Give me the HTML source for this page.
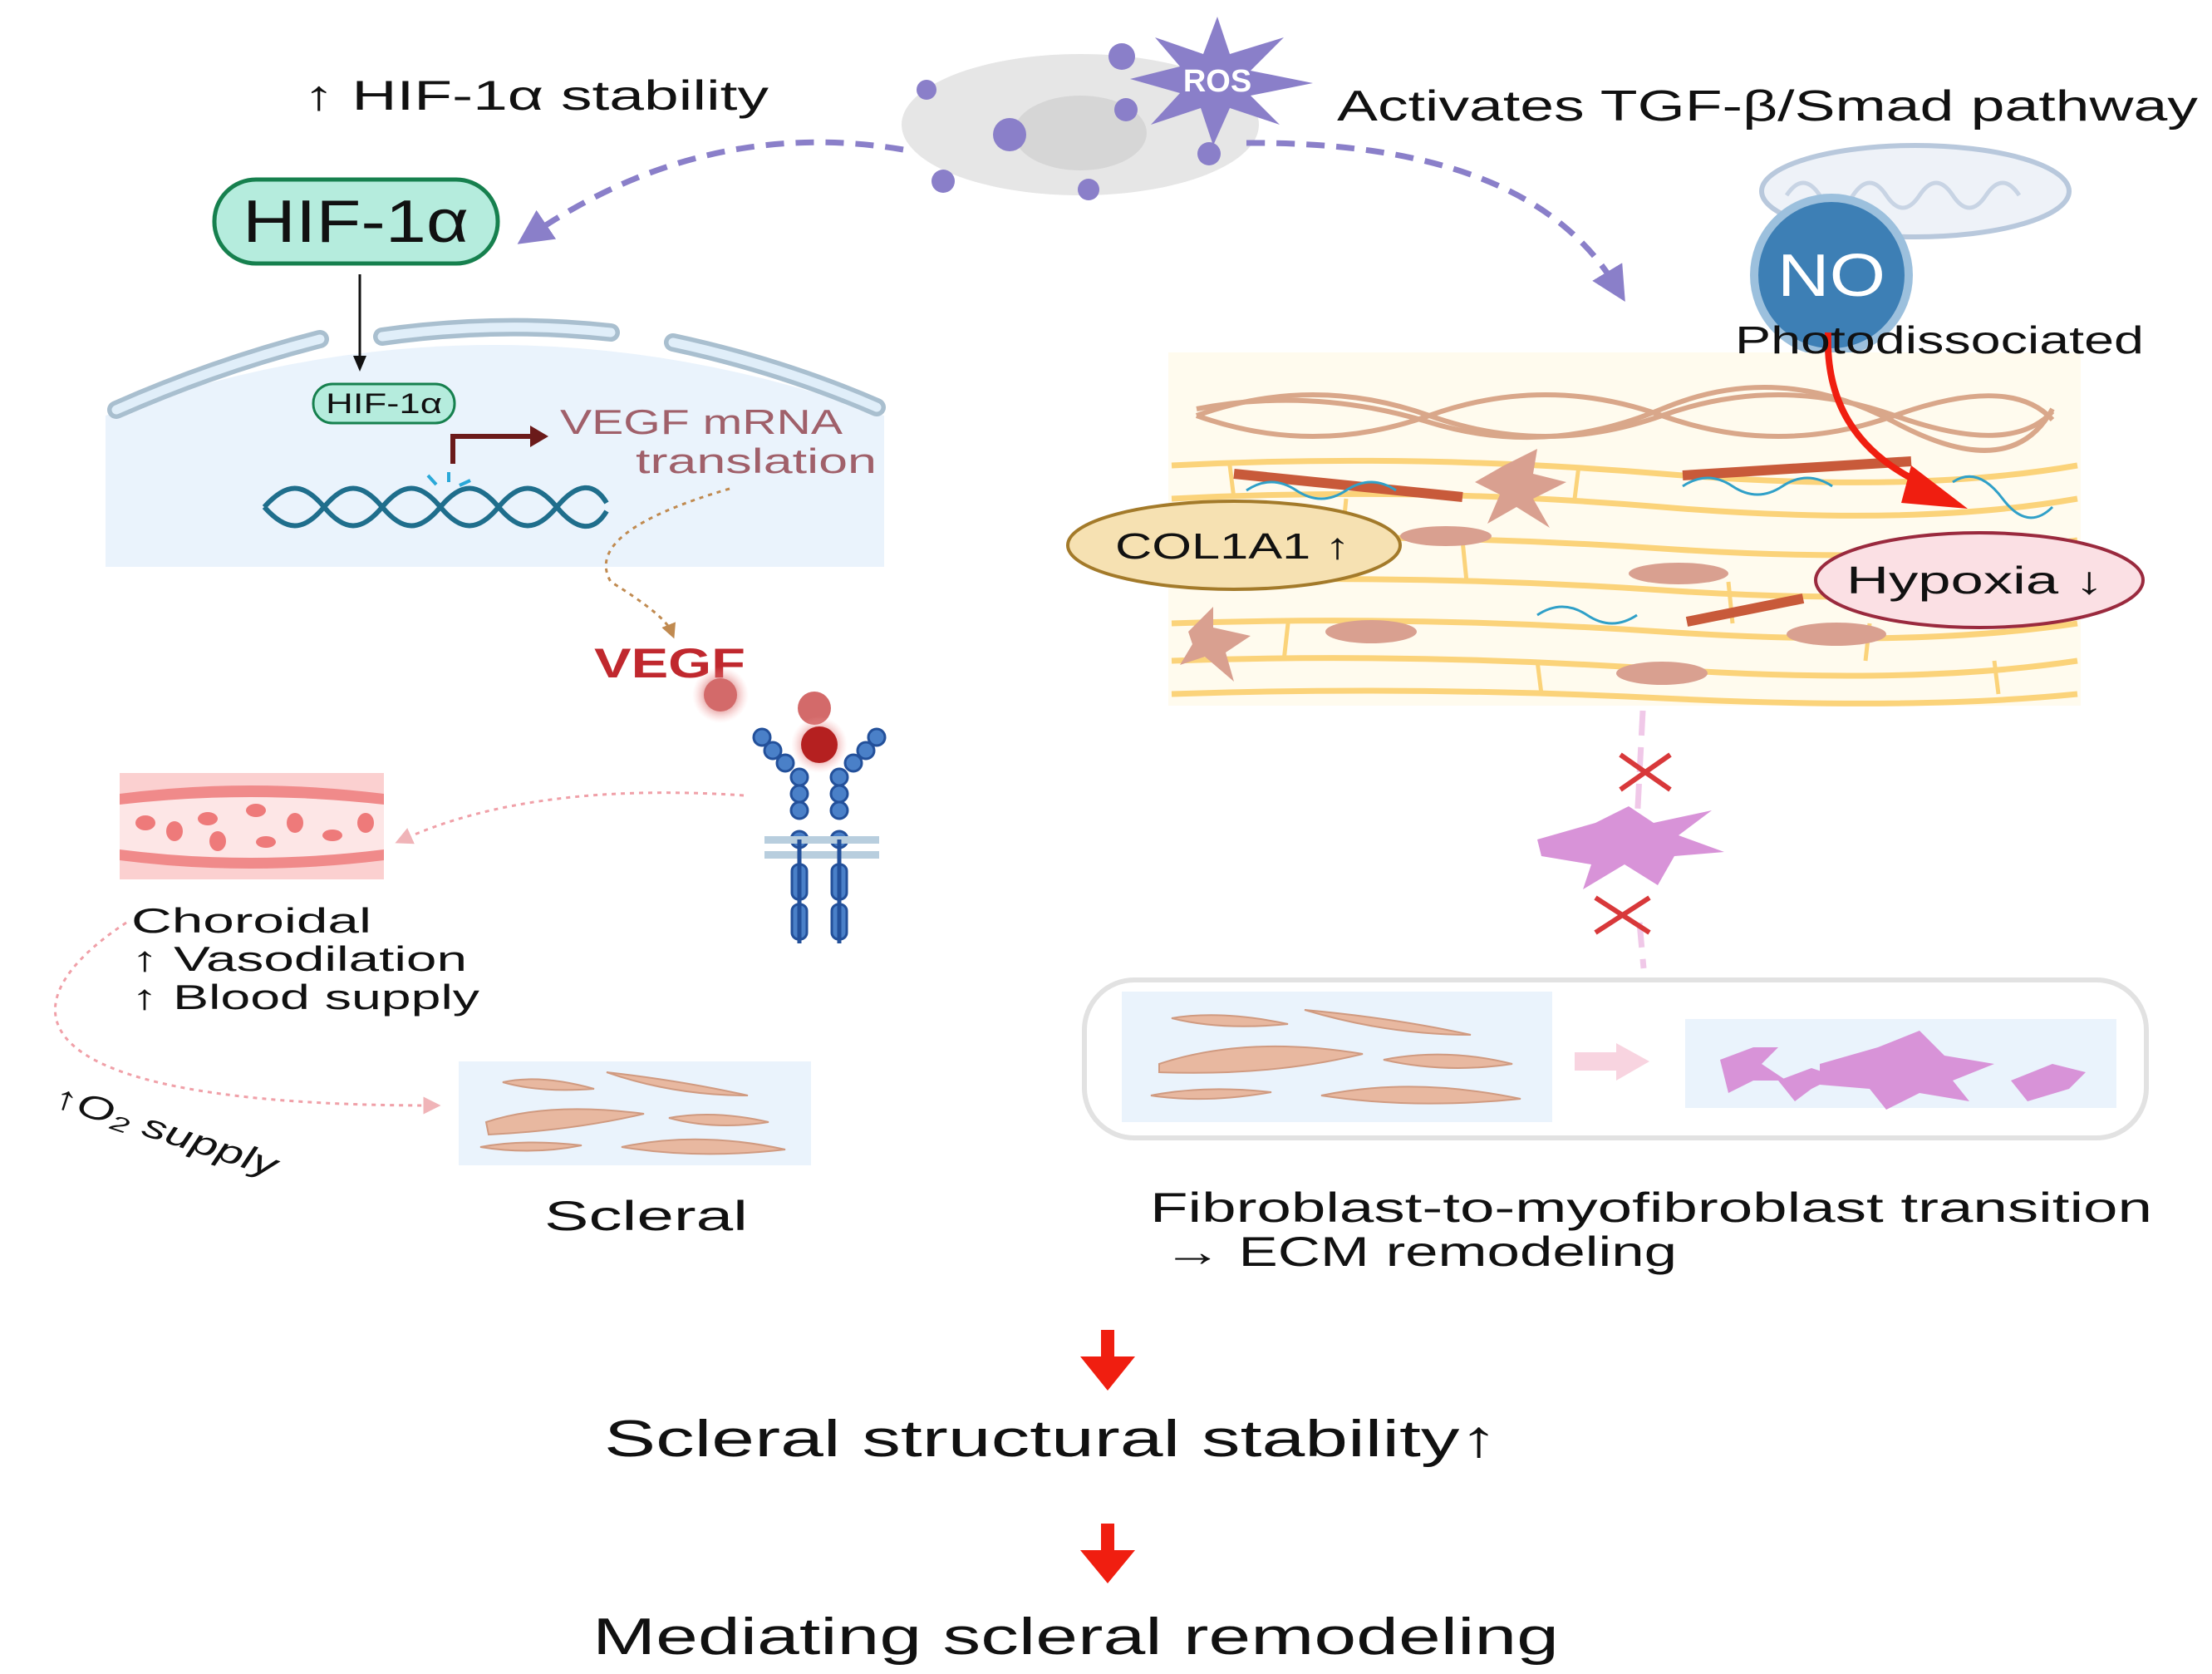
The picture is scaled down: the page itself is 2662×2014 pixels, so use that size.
<!DOCTYPE html>
<html><head><meta charset="utf-8"><style>
html,body{margin:0;padding:0;background:#fff}
svg{display:block}
text{font-family:"Liberation Sans",sans-serif}
</style></head><body>
<svg width="2662" height="2014" viewBox="0 0 2662 2014" xmlns="http://www.w3.org/2000/svg">
<defs>
<marker id="pa" markerWidth="6" markerHeight="6" refX="3" refY="3" orient="auto"><path d="M0,0 L6,3 L0,6 Z" fill="#8a7fc9"/></marker>
<marker id="pk" markerWidth="7" markerHeight="7" refX="3.5" refY="3.5" orient="auto"><path d="M0,0 L7,3.5 L0,7 Z" fill="#f0b4b8"/></marker>
<marker id="br" markerWidth="6" markerHeight="6" refX="3" refY="3" orient="auto"><path d="M0,0 L6,3 L0,6 Z" fill="#c08a50"/></marker>
<radialGradient id="glow"><stop offset="0.5" stop-color="#d06060"/><stop offset="1" stop-color="#ffb0b0" stop-opacity="0"/></radialGradient>
</defs>

<ellipse cx="1300" cy="150" rx="215" ry="85" fill="#e6e6e6"/>
<ellipse cx="1300" cy="160" rx="80" ry="45" fill="#d6d6d6"/>
<g fill="#8a7fc9">
<polygon points="1465,20 1480,65 1545,45 1505,85 1580,100 1505,115 1540,150 1480,130 1460,175 1445,130 1385,150 1420,112 1360,95 1420,80 1390,45 1448,65"/>
<circle cx="1115" cy="108" r="12"/><circle cx="1215" cy="162" r="20"/><circle cx="1350" cy="68" r="16"/><circle cx="1355" cy="132" r="14"/><circle cx="1455" cy="185" r="14"/><circle cx="1135" cy="218" r="14"/><circle cx="1310" cy="228" r="13"/>
</g>
<text x="1465" y="110" font-size="38" font-weight="bold" fill="#fff" text-anchor="middle">ROS</text>

<path d="M1087,180 Q850,140 640,282" fill="none" stroke="#8a7fc9" stroke-width="7" stroke-dasharray="22,14" marker-end="url(#pa)"/>
<path d="M1500,172 Q1840,170 1945,345" fill="none" stroke="#8a7fc9" stroke-width="7" stroke-dasharray="22,14" marker-end="url(#pa)"/>

<text x="365" y="132" font-size="50" textLength="560" lengthAdjust="spacingAndGlyphs" fill="#111"><tspan font-weight="bold">↑</tspan> HIF-1α stability</text>
<text x="1609" y="145" font-size="52" textLength="1036" lengthAdjust="spacingAndGlyphs" fill="#111">Activates TGF-β/Smad pathway</text>

<rect x="258" y="216" width="341" height="101" rx="50" fill="#b5ecdd" stroke="#16804e" stroke-width="5"/>
<text x="428" y="291" font-size="72" text-anchor="middle" textLength="272" lengthAdjust="spacingAndGlyphs" fill="#111">HIF-1α</text>

<path d="M127,500 Q595,330 1064,500 L1064,682 L127,682 Z" fill="#eaf3fc"/>
<g fill="none" stroke-linecap="round">
<path d="M140,493 Q260,440 385,408" stroke="#a9bfcf" stroke-width="22"/>
<path d="M140,493 Q260,440 385,408" stroke="#e0eef9" stroke-width="11"/>
<path d="M460,405 Q600,385 735,400" stroke="#a9bfcf" stroke-width="22"/>
<path d="M460,405 Q600,385 735,400" stroke="#e0eef9" stroke-width="11"/>
<path d="M810,412 Q940,440 1055,490" stroke="#a9bfcf" stroke-width="22"/>
<path d="M810,412 Q940,440 1055,490" stroke="#e0eef9" stroke-width="11"/>
</g>
<line x1="433" y1="330" x2="433" y2="432" stroke="#111" stroke-width="3"/>
<path d="M425,428 L441,428 L433,447 Z" fill="#111"/>
<rect x="377" y="462" width="170" height="47" rx="23" fill="#b5ecdd" stroke="#16804e" stroke-width="3"/>
<text x="462" y="497" font-size="34" text-anchor="middle" textLength="140" lengthAdjust="spacingAndGlyphs" fill="#111">HIF-1α</text>
<path d="M545,558 V525 H640" fill="none" stroke="#6b1a1a" stroke-width="6"/>
<path d="M638,512 L660,525 L638,538 Z" fill="#6b1a1a"/>
<text x="674" y="522" font-size="42" textLength="340" lengthAdjust="spacingAndGlyphs" fill="#a0606a">VEGF mRNA</text>
<text x="765" y="569" font-size="42" textLength="290" lengthAdjust="spacingAndGlyphs" fill="#a0606a">translation</text>
<g fill="none" stroke="#1f6e8c" stroke-width="6">
<path d="M318,610 C345,580 365,580 390,610 S435,640 460,610 S505,580 530,610 S575,640 600,610 S645,580 670,610 S715,640 730,615"/>
<path d="M318,610 C345,640 365,640 390,610 S435,580 460,610 S505,640 530,610 S575,580 600,610 S645,640 670,610 S715,580 730,605"/>
</g>
<g stroke="#2aa8d8" stroke-width="4"><line x1="525" y1="583" x2="515" y2="572"/><line x1="540" y1="580" x2="540" y2="568"/><line x1="553" y1="584" x2="566" y2="578"/></g>
<path d="M878,588 Q700,640 735,700 Q800,740 808,760" fill="none" stroke="#c08a50" stroke-width="3" stroke-dasharray="5,6" marker-end="url(#br)"/>

<text x="715" y="815" font-size="50" font-weight="bold" textLength="182" lengthAdjust="spacingAndGlyphs" fill="#c0282e">VEGF</text>
<circle cx="867" cy="836" r="34" fill="url(#glow)" opacity="0.6"/>
<circle cx="867" cy="836" r="20" fill="#d36a6a"/>
<circle cx="980" cy="852" r="20" fill="#d36a6a"/>
<circle cx="986" cy="896" r="34" fill="url(#glow)" opacity="0.6"/>
<circle cx="986" cy="896" r="22" fill="#b52020"/>
<g fill="#4a80c8" stroke="#23509a" stroke-width="3">
<circle cx="917" cy="887" r="10"/><circle cx="930" cy="903" r="10"/><circle cx="945" cy="918" r="10"/><circle cx="962" cy="935" r="10"/><circle cx="962" cy="955" r="10"/><circle cx="962" cy="975" r="10"/><circle cx="962" cy="1010" r="10"/>
<circle cx="1055" cy="887" r="10"/><circle cx="1042" cy="903" r="10"/><circle cx="1027" cy="918" r="10"/><circle cx="1010" cy="935" r="10"/><circle cx="1010" cy="955" r="10"/><circle cx="1010" cy="975" r="10"/><circle cx="1010" cy="1010" r="10"/>
<rect x="953" y="1040" width="18" height="42" rx="8"/><rect x="1001" y="1040" width="18" height="42" rx="8"/>
<rect x="953" y="1088" width="18" height="42" rx="8"/><rect x="1001" y="1088" width="18" height="42" rx="8"/>
</g>
<rect x="920" y="1006" width="138" height="9" fill="#b8cede"/><rect x="920" y="1024" width="138" height="9" fill="#b8cede"/>
<g stroke="#23509a" stroke-width="5"><line x1="962" y1="1010" x2="962" y2="1135"/><line x1="1010" y1="1010" x2="1010" y2="1135"/></g>

<rect x="144" y="930" width="318" height="128" fill="#fbd0d0"/>
<path d="M144,955 Q300,935 462,955 L462,1035 Q300,1055 144,1035 Z" fill="#f08a8a"/>
<path d="M144,968 Q300,950 462,968 L462,1022 Q300,1042 144,1022 Z" fill="#fde6e6"/>
<g fill="#ee7a7a"><ellipse cx="175" cy="990" rx="12" ry="9"/><ellipse cx="210" cy="1000" rx="10" ry="12"/><ellipse cx="250" cy="985" rx="12" ry="8"/><ellipse cx="262" cy="1012" rx="10" ry="12"/><ellipse cx="308" cy="975" rx="12" ry="8"/><ellipse cx="355" cy="990" rx="10" ry="12"/><ellipse cx="320" cy="1013" rx="12" ry="7"/><ellipse cx="400" cy="1005" rx="12" ry="7"/><ellipse cx="440" cy="990" rx="10" ry="12"/></g>
<path d="M895,957 Q640,940 485,1010" fill="none" stroke="#f0a0a8" stroke-width="3" stroke-dasharray="5,6" marker-end="url(#pk)"/>
<path d="M152,1110 C0,1210 10,1330 520,1330" fill="none" stroke="#f0a0a8" stroke-width="3" stroke-dasharray="5,6" marker-end="url(#pk)"/>

<text x="158" y="1122" font-size="42" textLength="289" lengthAdjust="spacingAndGlyphs" fill="#111">Choroidal</text>
<text x="158" y="1168" font-size="42" textLength="404" lengthAdjust="spacingAndGlyphs" fill="#111"><tspan font-weight="bold">↑</tspan> Vasodilation</text>
<text x="158" y="1214" font-size="42" textLength="419" lengthAdjust="spacingAndGlyphs" fill="#111"><tspan font-weight="bold">↑</tspan> Blood supply</text>
<text x="0" y="0" font-size="40" font-style="italic" fill="#111" transform="translate(62,1330) rotate(18)" textLength="280" lengthAdjust="spacingAndGlyphs">↑O₂ supply</text>

<rect x="552" y="1277" width="424" height="125" fill="#eaf3fc"/>
<g fill="#e8b8a0" stroke="#d09a80" stroke-width="2">
<path d="M605,1302 Q650,1292 715,1310 Q650,1315 605,1302Z"/><path d="M730,1290 Q820,1300 900,1318 Q810,1318 730,1290Z"/>
<path d="M585,1350 Q660,1325 775,1340 Q690,1360 588,1365Z"/><path d="M805,1345 Q860,1335 925,1350 Q860,1360 805,1345Z"/>
<path d="M578,1380 Q630,1370 700,1378 Q640,1390 578,1380Z"/><path d="M748,1380 Q840,1360 945,1383 Q840,1395 748,1380Z"/>
</g>
<text x="655" y="1480" font-size="50" textLength="245" lengthAdjust="spacingAndGlyphs" fill="#111">Scleral</text>

<ellipse cx="2305" cy="230" rx="185" ry="55" fill="#eef2f8" stroke="#b8c8dc" stroke-width="6"/>
<path d="M2150,235 q20,-30 40,0 q20,30 40,0 q20,-30 40,0 q20,30 40,0 q20,-30 40,0 q20,30 40,0 q20,-30 40,0" fill="none" stroke="#c8d4e4" stroke-width="5"/>
<circle cx="2204" cy="331" r="93" fill="#3d7fb5" stroke="#9cc0dd" stroke-width="10"/>
<text x="2204" y="356" font-size="72" text-anchor="middle" fill="#fff" textLength="130" lengthAdjust="spacingAndGlyphs">NO</text>

<rect x="1406" y="424" width="1098" height="425" fill="#fffbee"/>
<g fill="none" stroke="#d9a78a" stroke-width="6">
<path d="M1440,500 Q1580,450 1720,500 T2000,500 T2280,500 T2470,495"/>
<path d="M1440,500 Q1580,550 1720,500 T2000,500 T2280,500 T2470,505"/>
<path d="M1440,492 Q1580,465 1720,508 T2000,492 T2280,508 T2470,492"/>
</g>
<g fill="none" stroke="#fbd37a" stroke-width="7">
<path d="M1410,560 Q1700,545 2000,570 T2500,560"/><path d="M1410,600 Q1700,585 2000,610 T2500,600"/>
<path d="M1410,650 Q1700,640 2000,660 T2500,650"/><path d="M1410,700 Q1700,690 2000,710 T2500,700"/>
<path d="M1410,750 Q1700,740 2000,760 T2500,750"/><path d="M1410,795 Q1700,785 2000,805 T2500,795"/>
<path d="M1410,835 Q1700,825 2000,840 T2500,835"/>
</g>
<g stroke="#fbd37a" stroke-width="5">
<line x1="1480" y1="560" x2="1485" y2="600"/><line x1="1620" y1="600" x2="1615" y2="650"/><line x1="1760" y1="650" x2="1765" y2="700"/><line x1="1900" y1="560" x2="1895" y2="600"/><line x1="2080" y1="700" x2="2085" y2="750"/><line x1="2250" y1="750" x2="2245" y2="795"/><line x1="2400" y1="795" x2="2405" y2="835"/><line x1="1550" y1="750" x2="1545" y2="795"/><line x1="1850" y1="795" x2="1855" y2="835"/>
</g>
<g fill="#d9a090"><path d="M1810,560 l40,-20 l-5,30 l40,10 l-40,20 l20,35 l-40,-25 l-35,20 l15,-35 l-30,-15Z"/><path d="M1430,760 l30,-30 l0,25 l45,10 l-30,20 l10,35 l-35,-30 l-30,10 l15,-25Z"/><ellipse cx="1740" cy="645" rx="55" ry="12"/><ellipse cx="2020" cy="690" rx="60" ry="13"/><ellipse cx="1650" cy="760" rx="55" ry="14"/><ellipse cx="2210" cy="763" rx="60" ry="14"/><ellipse cx="2000" cy="810" rx="55" ry="14"/></g>
<g stroke="#c85a3a" stroke-width="12"><line x1="1485" y1="570" x2="1760" y2="598"/><line x1="2025" y1="572" x2="2300" y2="555"/><line x1="2030" y1="748" x2="2170" y2="720"/></g>
<g fill="none" stroke="#30a0c8" stroke-width="3"><path d="M1500,590 q30,-20 60,0 t60,0 t60,0"/><path d="M2025,585 q30,-20 60,0 t60,0 t60,0"/><path d="M1850,740 q30,-20 60,0 t60,0"/><path d="M2350,580 q30,-20 60,20 t60,10"/></g>
<path d="M2200,400 Q2195,530 2320,585" fill="none" stroke="#f01e10" stroke-width="8"/>
<path d="M2300,560 L2368,612 L2288,605 Z" fill="#f01e10"/>
<text x="2088" y="425" font-size="46" textLength="492" lengthAdjust="spacingAndGlyphs" fill="#111">Photodissociated</text>

<ellipse cx="1485" cy="656" rx="200" ry="53" fill="#f6e1b2" stroke="#a37a2a" stroke-width="4"/>
<text x="1342" y="672" font-size="44" textLength="283" lengthAdjust="spacingAndGlyphs" fill="#111">COL1A1 <tspan font-weight="bold">↑</tspan></text>
<ellipse cx="2382" cy="698" rx="197" ry="57" fill="#fbe0e4" stroke="#9a2a3e" stroke-width="4"/>
<text x="2222" y="714" font-size="46" textLength="310" lengthAdjust="spacingAndGlyphs" fill="#111">Hypoxia <tspan font-weight="bold">↓</tspan></text>

<line x1="1977" y1="855" x2="1970" y2="990" stroke="#f0c8e8" stroke-width="7" stroke-dasharray="30,14"/>
<line x1="1973" y1="1110" x2="1978" y2="1165" stroke="#f0c8e8" stroke-width="7" stroke-dasharray="30,14"/>
<g stroke="#d8383a" stroke-width="6"><line x1="1950" y1="908" x2="2010" y2="950"/><line x1="2010" y1="908" x2="1950" y2="950"/>
<line x1="1920" y1="1080" x2="1985" y2="1122"/><line x1="1985" y1="1080" x2="1920" y2="1122"/></g>
<path d="M1850,1010 l70,-20 l40,-20 l30,20 l70,-15 l-40,30 l55,20 l-60,5 l-20,35 l-40,-25 l-50,30 l10,-30 l-60,-10Z" fill="#d893d8"/>

<rect x="1305" y="1179" width="1278" height="190" rx="60" fill="none" stroke="#e2e2e2" stroke-width="6"/>
<rect x="1350" y="1193" width="518" height="157" fill="#eaf3fc"/>
<rect x="2028" y="1226" width="519" height="107" fill="#eaf3fc"/>
<g fill="#e8b8a0" stroke="#d09a80" stroke-width="2">
<path d="M1410,1225 Q1470,1215 1550,1232 Q1470,1240 1410,1225Z"/><path d="M1570,1215 Q1680,1225 1770,1245 Q1670,1245 1570,1215Z"/>
<path d="M1395,1280 Q1500,1245 1640,1268 Q1530,1295 1395,1290Z"/><path d="M1665,1275 Q1740,1260 1820,1280 Q1740,1292 1665,1275Z"/>
<path d="M1385,1318 Q1450,1305 1530,1314 Q1450,1328 1385,1318Z"/><path d="M1590,1318 Q1700,1295 1830,1322 Q1700,1335 1590,1318Z"/>
</g>
<g fill="#d893d8"><path d="M2070,1275 l40,-15 l30,0 l-20,20 l30,20 l-40,0 l-30,15Z"/><path d="M2140,1300 l40,-15 l30,10 l-30,15 l-20,15Z"/><path d="M2190,1280 l70,-20 l50,-20 l30,30 l60,10 l-50,20 l20,25 l-60,-10 l-40,20 l-20,-25 l-60,-5Z"/><path d="M2420,1300 l50,-20 l40,10 l-20,20 l-50,15Z"/></g>
<path d="M1895,1277 H1950" stroke="#f8d4e0" stroke-width="22"/>
<path d="M1945,1255 L1985,1277 L1945,1300 Z" fill="#f8d4e0"/>

<text x="1384" y="1470" font-size="50" textLength="1206" lengthAdjust="spacingAndGlyphs" fill="#111">Fibroblast-to-myofibroblast transition</text>
<text x="1400" y="1523" font-size="50" textLength="618" lengthAdjust="spacingAndGlyphs" fill="#111"><tspan font-weight="bold">→</tspan> ECM remodeling</text>

<rect x="1325" y="1600" width="16" height="38" fill="#f01e10"/>
<path d="M1300,1632 L1366,1632 L1333,1673 Z" fill="#f01e10"/>
<text x="727" y="1752" font-size="62" textLength="1076" lengthAdjust="spacingAndGlyphs" fill="#111">Scleral structural stability<tspan font-weight="bold">↑</tspan></text>
<rect x="1325" y="1833" width="16" height="38" fill="#f01e10"/>
<path d="M1300,1865 L1366,1865 L1333,1905 Z" fill="#f01e10"/>
<text x="713" y="1990" font-size="62" textLength="1163" lengthAdjust="spacingAndGlyphs" fill="#111">Mediating scleral remodeling</text>
</svg>
</body></html>
